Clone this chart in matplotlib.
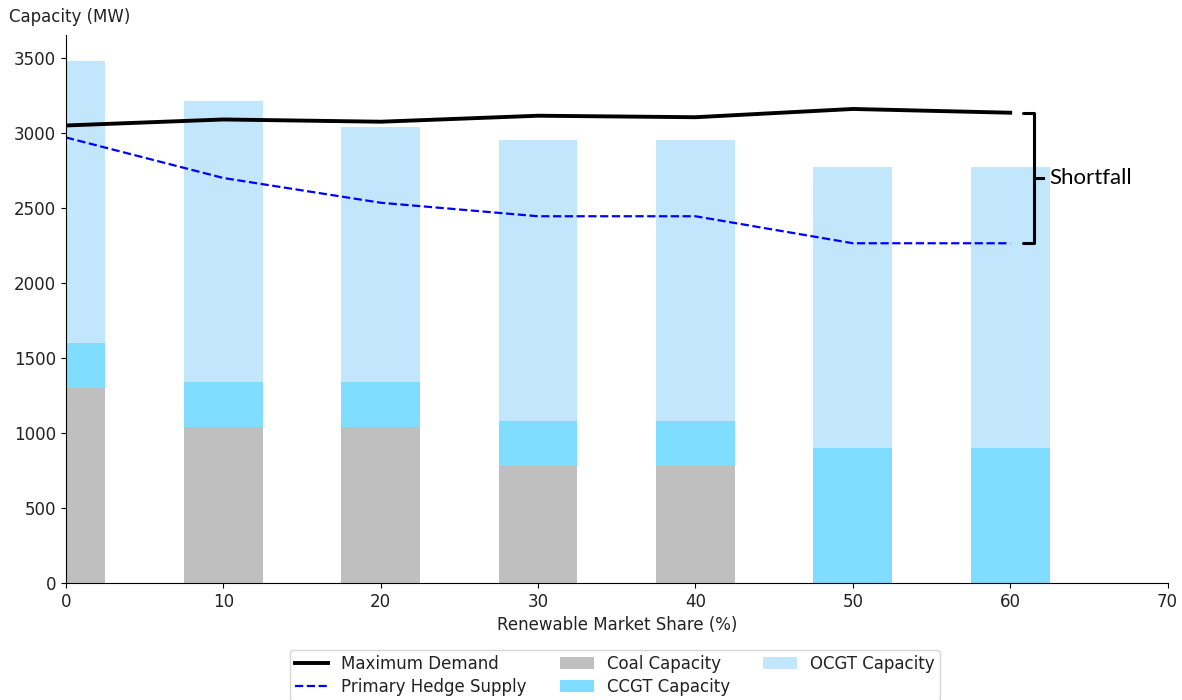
import matplotlib
matplotlib.use("Agg")
import matplotlib.pyplot as plt
import numpy as np

# Renewable market share scenarios (%)
share = [0, 10, 20, 30, 40, 50, 60]

# Installed capacity by technology (MW)
coal = [1300, 1040, 1040, 780, 780, 0, 0]
ccgt = [300, 300, 300, 300, 300, 900, 900]
ocgt = [1880, 1870, 1700, 1870, 1870, 1870, 1870]

# Demand and hedge supply (MW)
max_demand = [3050, 3090, 3075, 3115, 3105, 3160, 3135]
hedge_supply = [2970, 2700, 2535, 2445, 2445, 2265, 2265]

x = np.array(share, dtype=float)
coal_a = np.array(coal, dtype=float)
ccgt_a = np.array(ccgt, dtype=float)
ocgt_a = np.array(ocgt, dtype=float)

plt.rcParams["font.size"] = 12
plt.rcParams["text.color"] = "#222222"
plt.rcParams["xtick.labelcolor"] = "#222222"
plt.rcParams["ytick.labelcolor"] = "#222222"
plt.rcParams["axes.labelcolor"] = "#222222"

fig = plt.figure(figsize=(11.82, 7.0), dpi=100)
ax = fig.add_axes([0.0558, 0.167, 0.932, 0.783])

width = 5
ax.bar(x, coal_a, width=width, color="gray", alpha=0.5, label="Coal Capacity")
ax.bar(x, ccgt_a, width=width, bottom=coal_a, color="deepskyblue", alpha=0.5,
       label="CCGT Capacity")
ax.bar(x, ocgt_a, width=width, bottom=coal_a + ccgt_a, color="lightskyblue",
       alpha=0.5, label="OCGT Capacity")

ax.plot(x, max_demand, color="black", lw=2.8, label="Maximum Demand")
ax.plot(x, hedge_supply, color="blue", lw=1.6, ls="--",
        label="Primary Hedge Supply")

ax.set_xlim(0, 70)
ax.set_ylim(0, 3653)
ax.spines["top"].set_visible(False)
ax.spines["right"].set_visible(False)
ax.set_xlabel("Renewable Market Share (%)", labelpad=4)
fig.text(0.008, 0.976, "Capacity (MW)", ha="left", va="center")

# Shortfall bracket between demand and hedge supply at the last scenario
top = max_demand[-1]
bot = hedge_supply[-1]
mid = (top + bot) / 2
x0, x1, xm = 60.8, 61.5, 62.1
ax.plot([x0, x1, x1, x0], [top, top, bot, bot], color="black", lw=2.2,
        clip_on=False, solid_joinstyle="round", solid_capstyle="round")
ax.plot([x1, xm], [mid, mid], color="black", lw=2.2, clip_on=False)
ax.text(62.5, mid, "Shortfall", ha="left", va="center", fontsize=16,
        family="Lato", color="black")

handles, labels = ax.get_legend_handles_labels()
fig.legend(handles, labels, loc="upper center", bbox_to_anchor=(0.52, 0.084),
           ncol=3, frameon=True, labelspacing=0.3, borderpad=0.3)

fig.savefig("out.png", dpi=100)
